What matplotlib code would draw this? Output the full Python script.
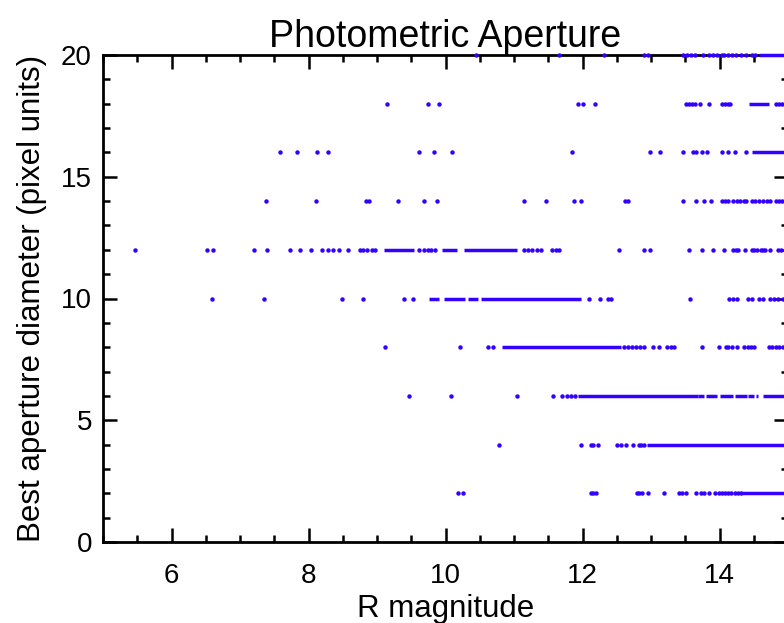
import matplotlib
matplotlib.use("Agg")
import matplotlib.pyplot as plt
from matplotlib.ticker import MultipleLocator

# aperture rows (pixel units) and R magnitudes
# sparse points per row, plus dense runs (start, end) where dots merge into a bar
ap2_x = [10.18, 10.26, 12.12, 12.15, 12.19, 12.80, 12.83, 12.87, 12.96, 13.19,
         13.41, 13.45, 13.51, 13.65, 13.73, 13.77, 13.84, 13.94, 13.99, 14.04,
         14.08, 14.12, 14.17, 14.22, 14.27, 14.31]
ap2_runs = [(14.33, 14.95)]

ap4_x = [10.78, 11.98, 12.12, 12.15, 12.22, 12.51, 12.56, 12.64, 12.73, 12.82,
         12.86, 12.90]
ap4_runs = [(12.94, 14.95)]

ap6_x = [9.47, 10.08, 11.04, 11.57, 11.70, 11.78, 11.83, 11.89]
ap6_runs = [(11.94, 13.69), (13.69, 13.77), (13.80, 13.97), (14.00, 14.20),
            (14.22, 14.40), (14.42, 14.50), (14.53, 14.56), (14.64, 14.95)]

ap8_x = [9.11, 10.21, 10.62, 10.70, 12.60, 12.66, 12.72, 12.78, 12.84, 12.90,
         13.03, 13.12, 13.24, 13.29, 13.34, 13.74, 13.99, 14.09, 14.13, 14.18,
         14.26, 14.36, 14.41, 14.46, 14.51, 14.72, 14.77, 14.82, 14.87, 14.92]
ap8_runs = [(10.83, 12.56)]

ap10_x = [6.59, 7.35, 8.49, 8.80, 9.39, 9.52, 12.09, 12.25, 12.37, 12.42, 13.57,
          14.14, 14.19, 14.25, 14.42, 14.48, 14.57, 14.64, 14.74, 14.80, 14.86,
          14.92]
ap10_runs = [(9.76, 9.91), (9.98, 10.28), (10.33, 10.47), (10.52, 11.98)]

ap12_x = [5.47, 6.52, 6.61, 7.21, 7.39, 7.73, 7.87, 8.03, 8.19, 8.28, 8.36, 8.44,
          8.57, 8.75, 8.80, 8.86, 8.92, 8.97, 9.61, 9.69, 9.74, 9.79, 9.85, 11.15,
          11.20, 11.26, 11.33, 11.39, 11.56, 11.62, 11.66, 12.54, 12.90, 12.99,
          13.56, 13.75, 13.91, 14.07, 14.20, 14.24, 14.27, 14.37, 14.47, 14.51,
          14.55, 14.61, 14.64, 14.67, 14.74, 14.85, 14.90]
ap12_runs = [(9.10, 9.54), (9.95, 10.17), (10.27, 11.05)]

ap14_x = [7.38, 8.11, 8.84, 8.88, 9.30, 9.68, 9.88, 11.14, 11.47, 11.88, 11.98,
          12.62, 12.66, 13.47, 13.66, 13.78, 13.88, 14.03, 14.08, 14.12, 14.20,
          14.25, 14.30, 14.36, 14.39, 14.47, 14.52, 14.57, 14.64, 14.69, 14.74,
          14.82, 14.87, 14.91]
ap14_runs = []

ap16_x = [7.58, 7.83, 8.12, 8.28, 9.61, 9.83, 10.10, 11.84, 12.98, 13.13, 13.47,
          13.62, 13.65, 13.75, 13.82, 14.03, 14.12, 14.22, 14.38]
ap16_runs = [(14.48, 14.95)]

ap18_x = [9.14, 9.74, 9.90, 11.93, 12.00, 12.18, 13.51, 13.55, 13.60, 13.64,
          13.72, 13.84, 14.03, 14.08, 14.12, 14.16, 14.82, 14.87, 14.91]
ap18_runs = [(14.43, 14.72)]

ap20_x = [10.44, 11.66, 12.32, 12.90, 12.96, 13.47, 13.52, 13.59, 13.64, 13.76,
          13.84, 13.90, 13.96, 14.03, 14.07, 14.12, 14.18, 14.24, 14.31, 14.38,
          14.47, 14.52]
ap20_runs = [(14.58, 14.95)]

rows = {2: (ap2_x, ap2_runs), 4: (ap4_x, ap4_runs), 6: (ap6_x, ap6_runs),
        8: (ap8_x, ap8_runs), 10: (ap10_x, ap10_runs), 12: (ap12_x, ap12_runs),
        14: (ap14_x, ap14_runs), 16: (ap16_x, ap16_runs),
        18: (ap18_x, ap18_runs), 20: (ap20_x, ap20_runs)}

plt.rcParams['font.family'] = ['Liberation Sans', 'DejaVu Sans']

dot = '#3300ff'

fig = plt.figure(figsize=(7.84, 6.23), dpi=100)
# right edge of the frame sits just past the image border, as in the original
ax = fig.add_axes([103 / 784, 81 / 623, 685 / 784, 487 / 623])

for ap, (xs, runs) in rows.items():
    ax.plot(xs, [ap] * len(xs), ls='none', marker='o', ms=3.2, mew=0,
            color=dot, clip_on=False, zorder=3)
    for x0, x1 in runs:
        ax.hlines(ap, x0, x1, color=dot, lw=2.5, clip_on=False, zorder=3)

ax.set_xlim(5, 15)
ax.set_ylim(0, 20)
ax.xaxis.set_major_locator(MultipleLocator(2))
ax.xaxis.set_minor_locator(MultipleLocator(0.5))
ax.yaxis.set_major_locator(MultipleLocator(5))
ax.yaxis.set_minor_locator(MultipleLocator(1))
ax.tick_params(which='both', direction='in', top=True, right=True, width=1.8,
               labelsize=20, colors='black')
ax.tick_params(which='major', length=10)
ax.tick_params(which='minor', length=5)
ax.tick_params(axis='x', which='major', pad=15)
ax.tick_params(axis='y', which='major', pad=8)
for s in ax.spines.values():
    s.set_linewidth(2.0)

ax.set_xlabel('R magnitude', fontsize=22.5, labelpad=3.5)
ax.set_ylabel('Best aperture diameter (pixel units)', fontsize=22.5, labelpad=10)
ax.set_title('Photometric Aperture', fontsize=27, pad=6)

fig.savefig('out.png', dpi=100)
